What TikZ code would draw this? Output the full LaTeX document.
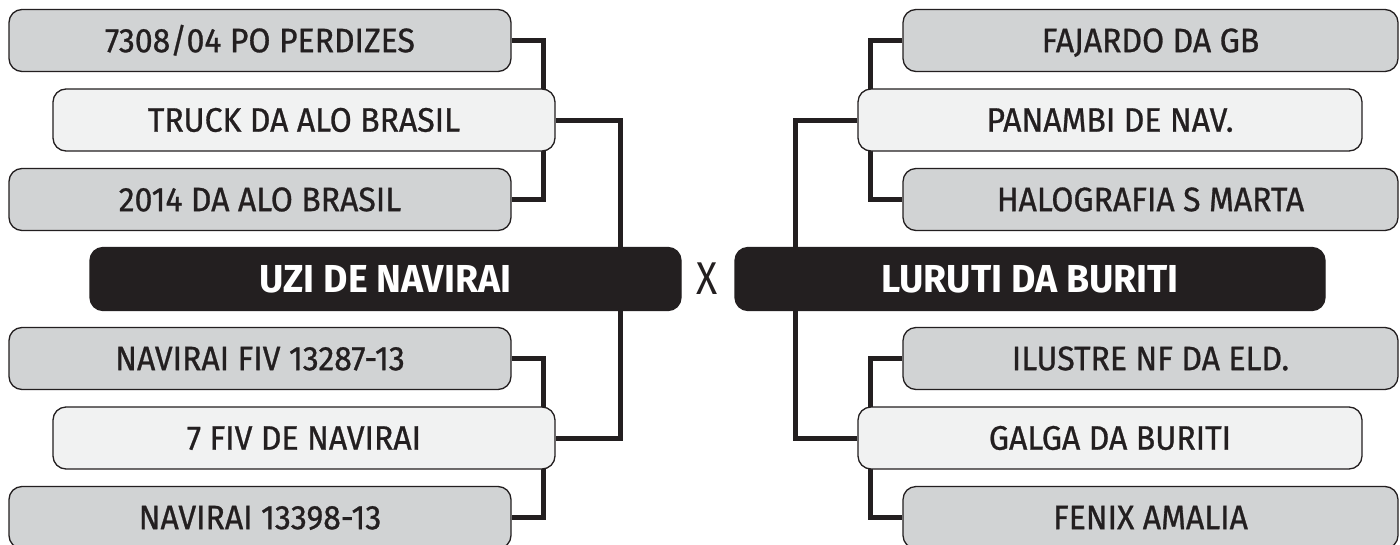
\documentclass[tikz,border=0pt]{standalone}
\usepackage{fontspec}
\newfontfamily\lbl[FakeStretch=0.94,FakeBold=0.8]{Fira Sans}
\newfontfamily\lblx[FakeStretch=0.85]{Fira Sans}
\newfontfamily\lblb[FakeStretch=0.96]{Fira Sans}
\definecolor{ink}{HTML}{231F20}
\definecolor{outergray}{HTML}{D1D3D4}
\definecolor{innergray}{HTML}{F1F2F2}
\pgfdeclarelayer{bg}
\pgfsetlayers{bg,main}
\begin{document}
\begin{tikzpicture}[x=1pt,y=-1pt,
  box/.style={draw=ink, line width=1.3pt, rounded corners=13pt, minimum height=62pt,
    inner sep=0pt, text=ink, font=\lbl\fontsize{34}{34}\selectfont,
    text height=23.4pt, text depth=0pt},
  outerbox/.style={box, fill=outergray, minimum width=502pt},
  innerbox/.style={box, fill=innergray, minimum width=502pt},
  champ/.style={box, fill=ink, text=white, minimum width=591pt, minimum height=63pt,
    font=\lblb\bfseries\fontsize{39}{39}\selectfont, text height=26.8pt},
  conn/.style={draw=ink, line width=5pt}]
\useasboundingbox (0,0) rectangle (1400,544);
% left side
\node[outerbox] (L1) at (260,40.5) {7308/04 PO PERDIZES};
\node[innerbox] (L2) at (304,120) {TRUCK DA ALO BRASIL};
\node[outerbox] (L3) at (260,199.5) {2014 DA ALO BRASIL};
\node[champ] (LB) at (385.5,279) {UZI DE NAVIRAI};
\node[outerbox] (L4) at (260,358.5) {NAVIRAI FIV 13287-13};
\node[innerbox] (L5) at (304,438) {7 FIV DE NAVIRAI};
\node[outerbox] (L6) at (260,517.5) {NAVIRAI 13398-13};
% right side
\node[outerbox, minimum width=495pt] (R1) at (1150.5,40.5) {FAJARDO DA GB};
\node[innerbox, minimum width=504pt] (R2) at (1110,120) {PANAMBI DE NAV.};
\node[outerbox, minimum width=495pt] (R3) at (1150.5,199.5) {HALOGRAFIA S MARTA};
\node[champ, minimum width=590pt] (RB) at (1030,279) {LURUTI DA BURITI};
\node[outerbox, minimum width=495pt] (R4) at (1150.5,358.5) {ILUSTRE NF DA ELD.};
\node[innerbox, minimum width=504pt] (R5) at (1110,438) {GALGA DA BURITI};
\node[outerbox, minimum width=495pt] (R6) at (1150.5,517.5) {FENIX AMALIA};
% X
\node[text=ink, font=\lblx\fontsize{46}{46}\selectfont, inner sep=0pt, text height=31.7pt, text depth=0pt] (X) at (707.5,279) {X};
% connectors
\begin{pgfonlayer}{bg}
\fill[white] (0,0) rectangle (1400,544);
\coordinate (jL) at (620,279);
\coordinate (jR) at (795,279);
\draw[conn] (L1.east) -- ++(32,0) |- (L3.east);
\draw[conn] (L4.east) -- ++(32,0) |- (L6.east);
\draw[conn] (L2.east) -| (jL) |- (L5.east);
\draw[conn] (R1.west) -- ++(-32,0) |- (R3.west);
\draw[conn] (R4.west) -- ++(-32,0) |- (R6.west);
\draw[conn] (R2.west) -| (jR) |- (R5.west);
\end{pgfonlayer}
\end{tikzpicture}
\end{document}
